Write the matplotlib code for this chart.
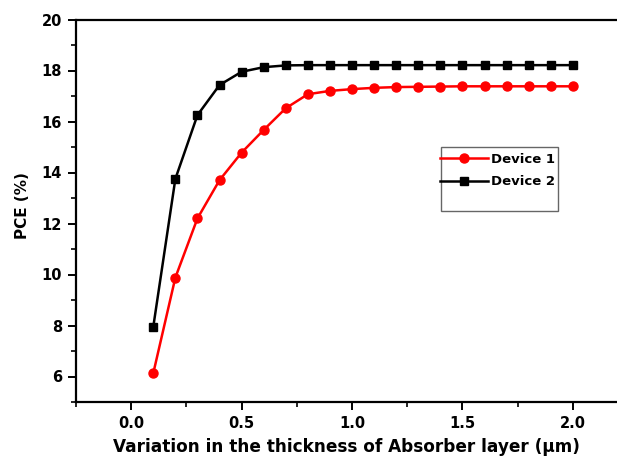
import numpy as np
import matplotlib
matplotlib.use("Agg")
import matplotlib.pyplot as plt
from matplotlib.ticker import MultipleLocator
from matplotlib.patches import Rectangle

thickness = [0.1, 0.2, 0.3, 0.4, 0.5, 0.6, 0.7, 0.8, 0.9, 1.0,
             1.1, 1.2, 1.3, 1.4, 1.5, 1.6, 1.7, 1.8, 1.9, 2.0]
pce_device1 = [6.13, 9.88, 12.2, 13.7, 14.78, 15.67, 16.52, 17.07, 17.2, 17.27,
               17.32, 17.35, 17.36, 17.37, 17.38, 17.38, 17.38, 17.38, 17.38, 17.38]
pce_device2 = [7.95, 13.75, 16.25, 17.43, 17.95, 18.13, 18.2, 18.21, 18.21, 18.21,
               18.21, 18.21, 18.21, 18.21, 18.21, 18.21, 18.21, 18.21, 18.21, 18.21]

plt.rcParams['font.family'] = ['DejaVu Sans']
plt.rcParams['font.weight'] = 'bold'

W, H = 617, 459
fig = plt.figure(figsize=(W / 100, H / 100), dpi=100)
ax = fig.add_axes([76 / W, 1 - 402 / H, (W - 76) / W, (402 - 19.5) / H])

ax.plot(thickness, pce_device1, color='red', marker='o', markersize=6.5,
        linewidth=1.8, label='Device 1')
ax.plot(thickness, pce_device2, color='black', marker='s', markersize=5.5,
        linewidth=1.8, label='Device 2')

ax.set_xlim(-0.25, 2.2)
ax.set_ylim(5, 20)
ax.xaxis.set_major_locator(MultipleLocator(0.5))
ax.xaxis.set_minor_locator(MultipleLocator(0.25))
ax.yaxis.set_minor_locator(MultipleLocator(1))
ax.set_yticks(np.arange(6, 21, 2))

ax.spines['right'].set_visible(False)
for s in ['left', 'bottom', 'top']:
    ax.spines[s].set_linewidth(1.6)
ax.tick_params(which='major', direction='out', length=6, width=1.4,
               labelsize=10.5, pad=4)
ax.tick_params(which='minor', direction='out', length=3.5, width=1.2)
ax.tick_params(top=False, which='both')
for lbl in ax.get_xticklabels() + ax.get_yticklabels():
    lbl.set_fontweight('bold')

ax.set_xlabel('Variation in the thickness of Absorber layer (\u03bcm)',
              fontsize=12.2, fontweight='bold', labelpad=5)
ax.set_ylabel('PCE (%)', fontsize=11, fontweight='bold')
ax.yaxis.set_label_coords(-0.0845, 0.513)

# legend frame drawn separately (the original box has empty space below)
fig.patches.append(Rectangle((441 / W, 1 - 211 / H), 117 / W, 64 / H,
                             transform=fig.transFigure, fill=False,
                             edgecolor='#666666', linewidth=1.0))
fig.legend(loc='upper left', bbox_to_anchor=(440 / W, 1 - 153 / H),
           frameon=False, borderpad=0, borderaxespad=0,
           handlelength=3.6, handletextpad=0.3, labelspacing=0.7,
           prop={'weight': 'bold', 'size': 9.5})

fig.savefig('out.png', dpi=100)
